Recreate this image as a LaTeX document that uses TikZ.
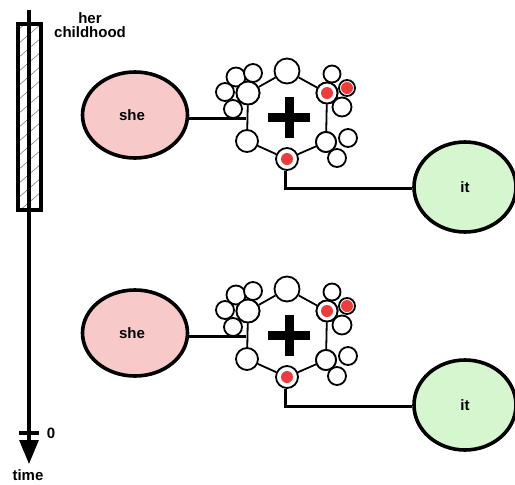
\documentclass[tikz,border=0pt]{standalone}
\usepackage{fontspec}
\setmainfont{Liberation Sans}
\usetikzlibrary{arrows.meta,shapes.geometric}
\definecolor{shepink}{HTML}{F7C9C9}
\definecolor{itgreen}{HTML}{D6F6D0}
\definecolor{dotred}{HTML}{EE3B3B}
\tikzset{
  lbl/.style={font=\fontsize{15}{15}\selectfont\bfseries, inner sep=0pt},
  blob/.style={ellipse, draw, line width=3.6pt, inner sep=0pt},
  bigc/.style={circle, draw, fill=white, line width=1.8pt, inner sep=0pt, minimum size=#1},
  reddot/.style={circle, fill=dotred, inner sep=0pt, minimum size=12pt},
  conn/.style={line width=3pt},
  hexline/.style={line width=1.8pt},
}
\begin{document}
\begin{tikzpicture}[x=1pt,y=-1pt]
\useasboundingbox (0,0) rectangle (515,485);
% timeline
\begin{scope}
  \clip (18,24) rectangle (41,210);
  \foreach \k in {0,...,20} {
    \draw[gray, line width=0.6pt] (18,30+\k*14) -- (41,10+\k*14);
  }
\end{scope}
\coordinate (tTop) at (29,10);
\coordinate (tEnd) at (29,464);
\draw[line width=3.2pt] (18,24) rectangle (41,210);
\draw[line width=3.2pt, -{Triangle[width=19pt,length=24pt]}] (tTop) -- (tEnd);
\draw[line width=3.2pt] (19,433) -- (39,433);
\node[lbl] (zero) at (51,433) {0};
\node[lbl] (time) at (28,475) {time};
\node[lbl, align=center] (hc) at (90,25.5) {her\\[-1pt]childhood};
% clusters
\foreach \dy/\s in {0/a,218/b} {
\begin{scope}[shift={(0,\dy)}]
  \node[blob, fill=shepink, minimum width=105pt, minimum height=86pt] (she\s) at (135,115) {};
  \node[lbl] at (132,115) {she};
  \node[blob, fill=itgreen, minimum width=102pt, minimum height=90pt] (it\s) at (465,187) {};
  \node[lbl] at (it\s) {it};
  % hexagon vertices
  \node[bigc=25pt] (t\s) at (287,71) {};
  \node[bigc=21pt] (ur\s) at (327,93) {};
  \node[bigc=20pt] (lr\s) at (326,142) {};
  \node[bigc=22pt] (b\s) at (287,159) {};
  \node[bigc=22pt] (ll\s) at (247,141) {};
  \node[bigc=23pt] (ul\s) at (248,93) {};
  \draw[hexline] (t\s) -- (ur\s) -- (lr\s) -- (b\s) -- (ll\s) -- (ul\s) -- (t\s);
  % small circles
  \node[bigc=19pt] at (236,77) {};
  \node[bigc=18pt] at (253,73) {};
  \node[bigc=18pt] at (225,92) {};
  \node[bigc=18pt] at (233,109) {};
  \node[bigc=23pt] at (248,93) {};
  \node[bigc=17pt] at (332,74) {};
  \node[bigc=19pt] at (342,107) {};
  \node[bigc=18pt] at (348,138) {};
  \node[bigc=18pt] at (337,158) {};
  \node[bigc=20pt] at (326,142) {};
  \node[bigc=16pt] (rd\s) at (347,88) {};
  \node[bigc=21pt] at (327,93) {};
  \node[reddot] at (rd\s) {};
  \node[reddot] at (ur\s) {};
  \node[reddot] at (b\s) {};
  % plus
  \fill (268,112.5) rectangle (310,121.5);
  \fill (284.5,97) rectangle (293.5,138);
  % connectors
  \coordinate (hl\s) at (246,118);
  \draw[conn] (hl\s) -- (hl\s -| she\s.east);
  \coordinate (bend\s) at (285,188);
  \draw[conn] (b\s.south -| bend\s) -- (bend\s) -- (bend\s -| it\s.west);
\end{scope}
}
\end{tikzpicture}
\end{document}
